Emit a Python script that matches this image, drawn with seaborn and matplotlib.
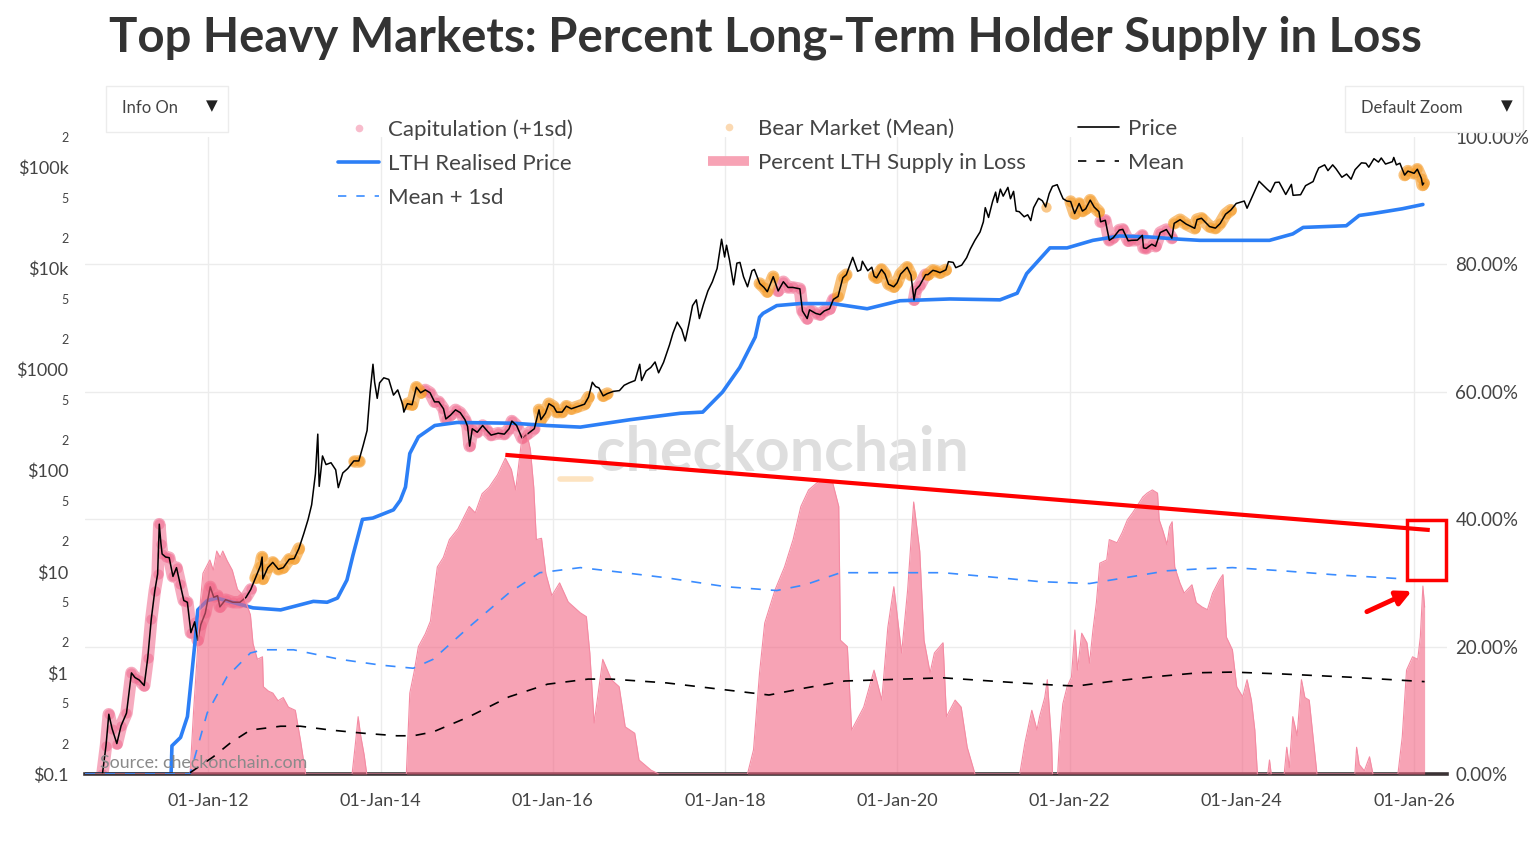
import numpy as np
import pandas as pd
import matplotlib
matplotlib.use("Agg")
import matplotlib.pyplot as plt
import matplotlib.dates as mdates
import matplotlib.patches as patches
from matplotlib.lines import Line2D
import seaborn as sns

# ---- data ----
price_dates = [
    "2010-07-18", "2010-08-15", "2010-09-15", "2010-10-10", "2010-10-25", "2010-11-06", "2010-11-20", "2010-12-10", "2010-12-28",
    "2011-01-20", "2011-02-10", "2011-02-25", "2011-03-15", "2011-04-05", "2011-04-20", "2011-05-05", "2011-05-20", "2011-06-01",
    "2011-06-08", "2011-06-15", "2011-06-20", "2011-07-05", "2011-07-20", "2011-08-05", "2011-08-20", "2011-09-05", "2011-09-20",
    "2011-10-05", "2011-10-20", "2011-11-05", "2011-11-18", "2011-12-01", "2011-12-20", "2012-01-10", "2012-01-25", "2012-02-10",
    "2012-02-20", "2012-03-15", "2012-04-15", "2012-05-15", "2012-06-10", "2012-06-30", "2012-07-20", "2012-08-10", "2012-08-17",
    "2012-08-20", "2012-09-10", "2012-10-01", "2012-10-25", "2012-11-15", "2012-12-10", "2012-12-31", "2013-01-20", "2013-02-10",
    "2013-02-28", "2013-03-15", "2013-03-31", "2013-04-10", "2013-04-16", "2013-04-30", "2013-05-15", "2013-06-05", "2013-06-25",
    "2013-07-06", "2013-07-25", "2013-08-15", "2013-09-10", "2013-10-01", "2013-10-20", "2013-11-05", "2013-11-18", "2013-11-30",
    "2013-12-07", "2013-12-18", "2013-12-28", "2014-01-15", "2014-02-05", "2014-02-25", "2014-03-15", "2014-04-05", "2014-04-10",
    "2014-04-25", "2014-05-15", "2014-06-02", "2014-06-20", "2014-07-10", "2014-07-30", "2014-08-18", "2014-09-05", "2014-09-25",
    "2014-10-05", "2014-10-25", "2014-11-15", "2014-12-05", "2014-12-25", "2015-01-05", "2015-01-14", "2015-01-25", "2015-02-15",
    "2015-03-10", "2015-03-31", "2015-04-15", "2015-05-15", "2015-06-10", "2015-06-30", "2015-07-12", "2015-08-01", "2015-08-24",
    "2015-09-15", "2015-10-15", "2015-11-04", "2015-11-12", "2015-12-01", "2015-12-16", "2016-01-05", "2016-01-18", "2016-02-10",
    "2016-02-28", "2016-03-20", "2016-04-15", "2016-05-15", "2016-06-01", "2016-06-17", "2016-07-01", "2016-07-15", "2016-08-02",
    "2016-08-20", "2016-09-15", "2016-10-10", "2016-10-30", "2016-11-20", "2016-12-15", "2017-01-04", "2017-01-12", "2017-01-31",
    "2017-02-20", "2017-03-10", "2017-03-25", "2017-04-15", "2017-05-10", "2017-05-25", "2017-06-12", "2017-07-01", "2017-07-16",
    "2017-08-01", "2017-08-16", "2017-09-01", "2017-09-14", "2017-10-01", "2017-10-20", "2017-11-08", "2017-11-28", "2017-12-17",
    "2017-12-30", "2018-01-07", "2018-01-20", "2018-02-06", "2018-02-20", "2018-03-05", "2018-03-20", "2018-04-06", "2018-04-25",
    "2018-05-05", "2018-05-28", "2018-06-15", "2018-06-29", "2018-07-24", "2018-08-14", "2018-09-05", "2018-09-25", "2018-10-15",
    "2018-11-14", "2018-11-25", "2018-12-15", "2018-12-25", "2019-01-20", "2019-02-08", "2019-02-25", "2019-03-20", "2019-04-05",
    "2019-04-25", "2019-05-15", "2019-05-30", "2019-06-26", "2019-07-17", "2019-07-30", "2019-08-06", "2019-08-29", "2019-09-15",
    "2019-09-25", "2019-10-05", "2019-10-26", "2019-11-10", "2019-11-25", "2019-12-17", "2019-12-31", "2020-01-15", "2020-02-12",
    "2020-02-28", "2020-03-12", "2020-03-20", "2020-04-05", "2020-04-30", "2020-05-10", "2020-05-31", "2020-06-15", "2020-06-30",
    "2020-07-25", "2020-08-05", "2020-08-25", "2020-09-05", "2020-09-30", "2020-10-21", "2020-11-05", "2020-11-25", "2020-12-17",
    "2020-12-31", "2021-01-08", "2021-01-22", "2021-02-08", "2021-02-21", "2021-02-28", "2021-03-13", "2021-03-25", "2021-04-14",
    "2021-04-25", "2021-05-08", "2021-05-19", "2021-06-01", "2021-06-22", "2021-07-07", "2021-07-20", "2021-08-01", "2021-08-22",
    "2021-09-07", "2021-09-21", "2021-10-06", "2021-10-20", "2021-11-09", "2021-11-26", "2021-12-04", "2021-12-20", "2022-01-05",
    "2022-01-22", "2022-02-10", "2022-02-24", "2022-03-10", "2022-03-29", "2022-04-15", "2022-05-05", "2022-05-12", "2022-06-01",
    "2022-06-18", "2022-07-05", "2022-07-30", "2022-08-14", "2022-09-06", "2022-09-20", "2022-10-15", "2022-11-05", "2022-11-10",
    "2022-11-21", "2022-12-15", "2022-12-31", "2023-01-20", "2023-02-15", "2023-03-10", "2023-03-20", "2023-04-14", "2023-05-10",
    "2023-06-15", "2023-06-25", "2023-07-14", "2023-08-17", "2023-09-11", "2023-10-01", "2023-10-24", "2023-11-15", "2023-12-08",
    "2024-01-11", "2024-01-23", "2024-02-15", "2024-03-14", "2024-04-17", "2024-05-01", "2024-05-21", "2024-06-07", "2024-07-05",
    "2024-07-29", "2024-08-05", "2024-09-06", "2024-09-27", "2024-10-29", "2024-11-12", "2024-11-22", "2024-12-17", "2024-12-31",
    "2025-01-20", "2025-02-03", "2025-02-28", "2025-03-20", "2025-04-08", "2025-04-25", "2025-05-22", "2025-06-10", "2025-06-22",
    "2025-07-14", "2025-08-02", "2025-08-14", "2025-09-01", "2025-09-30", "2025-10-06", "2025-10-17", "2025-11-01", "2025-11-21",
    "2025-12-05", "2025-12-31", "2026-01-14", "2026-01-31", "2026-02-05", "2026-02-10",
]
price_vals = [
    0.08, 0.07, 0.06, 0.10, 0.19, 0.39, 0.28, 0.20, 0.30,
    0.40, 1.00, 0.90, 0.85, 0.75, 1.40, 3.4, 6.5, 9.5,
    29.6, 19, 15, 14, 13.8, 9, 11, 7.5, 5.2,
    5.0, 2.5, 3.2, 2.1, 3.0, 3.9, 7.1, 5.6, 5.8,
    4.5, 5.3, 5.0, 5.0, 5.6, 6.7, 8.7, 11.5, 14.0,
    8.5, 11, 12.4, 10.6, 11.0, 13.3, 13.5, 17, 24,
    33, 46, 93, 230, 70, 140, 115, 120, 102,
    68, 95, 105, 125, 125, 180, 250, 600, 1130,
    750, 520, 740, 830, 800, 560, 630, 450, 380,
    460, 450, 670, 590, 630, 590, 480, 480, 410,
    325, 355, 400, 375, 320, 275, 175, 260, 240,
    280, 245, 225, 235, 230, 260, 310, 280, 210,
    230, 260, 400, 320, 370, 460, 430, 380, 380,
    435, 410, 430, 455, 535, 750, 680, 660, 550,
    580, 610, 620, 700, 740, 780, 1130, 780, 970,
    1050, 1190, 930, 1180, 1750, 2300, 2950, 2500, 1920,
    2850, 4300, 4900, 3200, 4400, 6000, 7400, 10000, 19500,
    13000, 17000, 12000, 6900, 11300, 11500, 8300, 6600, 9500,
    9800, 7100, 6500, 5900, 8300, 6000, 7400, 6500, 6500,
    6300, 3800, 3200, 3900, 3600, 3500, 3800, 4000, 4950,
    5300, 8100, 8700, 12900, 9400, 9700, 11800, 9500, 10300,
    8400, 8100, 9800, 8800, 7000, 6600, 7200, 8800, 10300,
    8600, 4900, 6200, 6800, 8700, 8700, 9600, 9400, 9100,
    9700, 11700, 11500, 10200, 10800, 12800, 15500, 19000, 23000,
    29000, 40000, 32000, 46000, 57000, 45000, 61000, 52000, 63500,
    49000, 58000, 37000, 36500, 32500, 34000, 29800, 40000, 49500,
    46800, 40700, 55000, 65000, 67500, 54000, 49000, 46500, 46000,
    35000, 44000, 37000, 39000, 47500, 40500, 36500, 29000, 30000,
    19000, 20200, 24000, 24400, 18800, 19000, 19100, 21300, 16000,
    15800, 17400, 16600, 22700, 24300, 20000, 28000, 30400, 27500,
    25000, 30500, 31400, 26000, 25100, 27900, 34500, 37800, 44000,
    46500, 39500, 52000, 73000, 61000, 57000, 71000, 71500, 54000,
    68000, 53000, 53700, 66000, 72500, 88000, 99000, 106000, 93000,
    106000, 97000, 80000, 86000, 76500, 95000, 111000, 110000, 100500,
    122000, 113000, 124000, 108000, 114000, 125500, 106000, 110000, 84000,
    92000, 87500, 96000, 78000, 67000, 70000,
]

# LTH realised price (decimal years)
lth_t = [2010.57, 2011.57, 2011.58, 2011.68, 2011.76, 2011.85, 2011.88, 2011.99, 2012.10, 2012.52, 2012.84, 2013.22,
         2013.38, 2013.50, 2013.61, 2013.68, 2013.79, 2013.91, 2014.15, 2014.23, 2014.29, 2014.34, 2014.44, 2014.63,
         2014.89, 2015.54, 2015.93, 2016.32, 2016.90, 2017.48, 2017.74, 2017.97, 2018.17, 2018.35, 2018.40, 2018.44,
         2018.60, 2018.87, 2019.25, 2019.65, 2020.03, 2020.61, 2021.19, 2021.39, 2021.50, 2021.77, 2021.97, 2022.27,
         2022.58, 2022.93, 2023.28, 2023.51, 2024.32, 2024.59, 2024.71, 2025.21, 2025.36, 2025.52, 2025.86, 2026.10]
lth_v = [0.1, 0.1, 0.19, 0.23, 0.37, 2.1, 4.2, 5.2, 5.5, 4.4, 4.2, 5.1,
         5.0, 5.5, 8.3, 14.6, 33, 34, 41, 51, 69, 148, 216, 280,
         300, 295, 280, 270, 320, 370, 380, 600, 1050, 2100, 3300, 3600,
         4300, 4500, 4500, 4000, 4800, 5000, 4900, 5700, 8900, 16000, 16000, 19000,
         21000, 20500, 19500, 19000, 19000, 22000, 25500, 26500, 33500, 35000, 39000, 43000]

# percent of LTH supply in loss (decimal years, %)
loss_t = [2010.57, 2011.79, 2011.83, 2011.87, 2011.91, 2011.94, 2012.02, 2012.06, 2012.10, 2012.14, 2012.17, 2012.22,
          2012.28, 2012.34, 2012.41, 2012.49, 2012.52, 2012.57, 2012.63, 2012.64, 2012.70, 2012.75, 2012.81, 2012.87,
          2012.93, 2013.01, 2013.07, 2013.13,
          2013.67, 2013.71, 2013.74, 2013.77, 2013.81, 2013.84,
          2014.30, 2014.34, 2014.39, 2014.44, 2014.52, 2014.58, 2014.66, 2014.73, 2014.80, 2014.90, 2015.03, 2015.10,
          2015.18, 2015.26, 2015.36, 2015.45, 2015.52, 2015.57, 2015.64, 2015.69, 2015.74, 2015.78, 2015.81, 2015.87,
          2015.92, 2015.99, 2016.08, 2016.18, 2016.32, 2016.39, 2016.43, 2016.48, 2016.52, 2016.58, 2016.68, 2016.77,
          2016.84, 2016.95, 2017.00, 2017.14, 2017.23,
          2018.26, 2018.33, 2018.40, 2018.46, 2018.58, 2018.69, 2018.79, 2018.88, 2018.97, 2019.11, 2019.25, 2019.32,
          2019.34, 2019.42, 2019.47, 2019.61, 2019.73, 2019.82, 2019.89, 2019.96, 2020.05, 2020.12, 2020.19, 2020.26,
          2020.31, 2020.38, 2020.43, 2020.53, 2020.57, 2020.67, 2020.74, 2020.81, 2020.90,
          2021.42, 2021.48, 2021.56, 2021.62, 2021.65, 2021.71, 2021.74, 2021.79, 2021.80, 2021.86, 2021.88, 2021.92,
          2021.97, 2022.02, 2022.06, 2022.09, 2022.14, 2022.20, 2022.23, 2022.27, 2022.31, 2022.35, 2022.43, 2022.46,
          2022.55, 2022.61, 2022.67, 2022.73, 2022.85, 2022.90, 2022.96, 2023.02, 2023.04, 2023.08, 2023.13, 2023.16,
          2023.19, 2023.22, 2023.28, 2023.33, 2023.42, 2023.47, 2023.54, 2023.60, 2023.66, 2023.74, 2023.78, 2023.82,
          2023.89, 2023.94, 2024.01, 2024.06, 2024.11, 2024.15, 2024.18,
          2024.30, 2024.32, 2024.34, 2024.49, 2024.52, 2024.55, 2024.59, 2024.64, 2024.69, 2024.73, 2024.78, 2024.82,
          2024.87, 2025.31, 2025.33, 2025.36, 2025.42, 2025.48, 2025.52,
          2025.81, 2025.86, 2025.91, 2025.98, 2026.04, 2026.07, 2026.10, 2026.12]
loss_v = [0, 0, 9.6, 18, 27, 31.5, 33.6, 32, 35, 34, 35, 33.5,
          32, 29, 28, 25, 20.5, 18, 18.4, 13.7, 13, 12.7, 11.5, 12,
          10.5, 10, 5.3, 0,
          0, 5, 9, 6, 3, 0,
          0, 12.7, 16, 20, 22, 24, 32.5, 34, 36.8, 38.5, 42, 41,
          44, 45, 47, 49.6, 47.8, 44.6, 52.5, 54, 51, 45, 36.8, 37,
          31.5, 28, 30, 27, 25.3, 24.7, 19, 8, 12, 18, 14.8, 13.7,
          7.4, 6.4, 2.2, 0.6, 0,
          0, 3.8, 15.9, 23.7, 28.9, 32.5, 36.8, 42, 44.6, 46.2, 45.7, 42,
          21, 20, 6.9, 10.5, 16.3, 11.6, 23, 29.4, 19, 28.9, 42.7, 35,
          21, 15.9, 19, 20.6, 9, 11.6, 10.5, 4.2, 0,
          0, 4.9, 10, 6.9, 9, 12, 14.8, 4.9, 0, 0, 4.9, 11,
          13.7, 15.2, 22.6, 16.3, 22.1, 20.6, 17.4, 22.6, 26.9, 33.1, 33.6, 36.8,
          36.3, 37.9, 39.9, 41, 43.5, 44.1, 44.6, 44.1, 39.9, 38.3, 36, 38.8,
          39.6, 32.5, 30, 28.4, 29.7, 26.9, 26.2, 25.8, 28.4, 30.5, 31.3, 21.5,
          19.5, 13.7, 12.1, 14.8, 11.6, 6.9, 0,
          0, 2.2, 0, 0, 4.2, 1, 9, 6, 14.8, 12, 11.6, 6.4,
          0, 0, 4.2, 1.5, 0.5, 2.7, 0,
          0, 5.8, 16.3, 18.4, 18, 21.5, 29.5, 26.2]

# mean and mean + 1sd of the loss metric
mean_t = [2011.79, 2012.06, 2012.26, 2012.49, 2012.84, 2013.07, 2013.42, 2013.80, 2014.19, 2014.38, 2014.61, 2015.03,
          2015.49, 2015.94, 2016.41, 2016.68, 2017.32, 2018.01, 2018.51, 2018.93, 2019.39, 2020.07, 2020.53, 2021.19,
          2021.77, 2022.08, 2022.46, 2022.93, 2023.51, 2023.89, 2024.47, 2025.25, 2026.12]
mean_v = [0.2, 2.7, 4.9, 6.9, 7.5, 7.5, 6.9, 6.4, 6.0, 6.0, 6.6, 9.0,
          12.1, 14.1, 14.9, 14.9, 14.3, 13.2, 12.4, 13.5, 14.6, 14.9, 15.1, 14.5,
          14.0, 13.8, 14.5, 15.2, 15.9, 16.0, 15.7, 15.2, 14.5]
sd_t = [2010.57, 2011.79, 2011.99, 2012.22, 2012.49, 2012.64, 2012.99, 2013.53, 2014.00, 2014.38, 2014.61, 2015.03,
        2015.49, 2015.85, 2016.32, 2016.77, 2017.32, 2018.01, 2018.60, 2018.93, 2019.34, 2020.07, 2020.53, 2021.19,
        2021.65, 2022.23, 2022.73, 2023.13, 2023.51, 2023.89, 2024.47, 2025.05, 2025.91]
sd_v = [0, 0, 9.6, 15.3, 19.0, 19.5, 19.5, 18.0, 17.1, 16.6, 18.0, 23.1,
        28.4, 31.6, 32.4, 31.7, 30.8, 29.4, 28.8, 29.7, 31.6, 31.6, 31.6, 30.8,
        30.2, 29.9, 31.0, 31.9, 32.2, 32.4, 31.9, 31.3, 30.6]

# highlighted regimes on the price line (decimal year ranges)
cap_periods = [(2010.55, 2012.52), (2014.49, 2015.82), (2018.60, 2019.30), (2020.16, 2020.34), (2022.35, 2023.20)]
bear_periods = [(2012.52, 2013.07), (2013.68, 2013.78), (2014.31, 2014.49), (2015.82, 2016.43), (2016.55, 2016.70),
                (2018.38, 2018.60), (2019.30, 2019.48), (2019.72, 2020.16), (2020.34, 2020.58), (2021.70, 2021.76),
                (2022.00, 2022.35), (2023.20, 2023.93), (2025.86, 2026.13)]

price_ticks = [0.1, 1, 10, 100, 1000, 1e4, 1e5]
price_labels = ["$0.1", "$1", "$10", "$100", "$1000", "$10k", "$100k"]
pct_ticks = [0, 20, 40, 60, 80, 100]


def yr2date(y):
    yr = int(np.floor(y))
    a = pd.Timestamp(yr, 1, 1)
    b = pd.Timestamp(yr + 1, 1, 1)
    return a + (b - a) * (y - yr)


def to_dates(ts):
    return pd.to_datetime([yr2date(t) for t in ts])


price_df = pd.DataFrame({"date": pd.to_datetime(price_dates), "price": price_vals})
price_df["t"] = price_df["date"].dt.year + (price_df["date"].dt.dayofyear - 1) / 365.25
lth_df = pd.DataFrame({"date": to_dates(lth_t), "v": lth_v})
loss_df = pd.DataFrame({"date": to_dates(loss_t), "v": loss_v})
mean_df = pd.DataFrame({"date": to_dates(mean_t), "v": mean_v})
sd_df = pd.DataFrame({"date": to_dates(sd_t), "v": sd_v})

sns.set_theme(style="white")
plt.rcParams["font.family"] = ["Lato", "DejaVu Sans"]
txt = "#444444"

W, H = 1537, 843
fig = plt.figure(figsize=(W / 100, H / 100), dpi=100)
fig.patch.set_facecolor("white")
L, R, T, B = 85, 1447, 137, 774
ax = fig.add_axes([L / W, 1 - B / H, (R - L) / W, (B - T) / H])
ax.patch.set_visible(False)
ax2 = ax.twinx()

# grid (percent levels + year ticks)
for p in pct_ticks[1:-1]:
    ax.plot([0, 1], [p / 100] * 2, transform=ax.transAxes, color="#ececec", lw=1, zorder=0)
ax.grid(axis="x", color="#ececec", lw=1)
ax.grid(axis="y", visible=False)

# watermark
ax.text(0.5117, 0.504, "checkonchain", transform=ax.transAxes, ha="center", va="center",
        fontsize=44, weight="bold", color="#dedede", zorder=0.5)
ax.plot([0.3488, 0.3715], [0.463, 0.463], transform=ax.transAxes, color="#fde3c0", lw=4, zorder=0.5)

# price halos
for a, b in cap_periods:
    seg = price_df[(price_df.t >= a) & (price_df.t <= b)]
    ax.plot(seg.date, seg.price, color="#f0668c", lw=9, alpha=0.55, solid_capstyle="round", zorder=2)
    ax.scatter(seg.date, seg.price, s=55, color="#f0668c", alpha=0.5, lw=0, zorder=2)
for a, b in bear_periods:
    seg = price_df[(price_df.t >= a) & (price_df.t <= b)]
    ax.plot(seg.date, seg.price, color="#f59a26", lw=9, alpha=0.6, solid_capstyle="round", zorder=2)
    ax.scatter(seg.date, seg.price, s=55, color="#f59a26", alpha=0.55, lw=0, zorder=2)

sns.lineplot(data=lth_df, x="date", y="v", ax=ax, color="#2c7ff6", lw=2.6, estimator=None, zorder=2.5)
sns.lineplot(data=price_df, x="date", y="price", ax=ax, color="black", lw=1.1, estimator=None, zorder=3)

ax.set_yscale("log")
ax.set_ylim(0.1, 2e5)
ax.set_yticks(price_ticks)
ax.set_yticklabels(price_labels)
minor = [m * 10.0 ** e for e in range(-1, 6) for m in (2, 5)]
minor = [m for m in minor if m <= 2e5]
ax.set_yticks(minor, minor=True)
ax.set_yticklabels(["2" if str(int(round(m / 10 ** np.floor(np.log10(m))))) == "2" else "5" for m in minor],
                   minor=True)
ax.tick_params(axis="y", which="major", labelsize=13, length=0, pad=12, colors=txt)
ax.tick_params(axis="y", which="minor", labelsize=9, length=0, pad=12, colors=txt)
ax.set_ylabel("")
ax.set_xlabel("")

# percent axis
ax2.fill_between(loss_df.date, 0, loss_df.v, color="#f26684", alpha=0.6, lw=0, zorder=1)
sns.lineplot(data=loss_df, x="date", y="v", ax=ax2, color="#f48ba3", lw=0.8, estimator=None, zorder=1.5)
sns.lineplot(data=sd_df, x="date", y="v", ax=ax2, color="#3a8cff", lw=1.2, estimator=None,
             linestyle=(0, (6, 6)), zorder=3)
sns.lineplot(data=mean_df, x="date", y="v", ax=ax2, color="black", lw=1.2, estimator=None,
             linestyle=(0, (6, 6)), zorder=3)
ax2.set_ylim(0, 100)
ax2.set_yticks(pct_ticks)
ax2.set_yticklabels([f"{p:.2f}%" for p in pct_ticks])
ax2.tick_params(axis="y", labelsize=13.5, length=0, pad=6, colors=txt)
ax2.set_ylabel("")
ax2.grid(False)

# red annotation
ax2.plot([yr2date(2015.45), yr2date(2026.18)], [50.1, 38.3], color="#ff0000", lw=3, zorder=5,
         solid_capstyle="butt")
x0 = mdates.date2num(yr2date(2025.92))
x1 = mdates.date2num(yr2date(2026.37))
ax2.add_patch(patches.Rectangle((x0, 30.5), x1 - x0, 9.4, fill=False, edgecolor="#ff0000", lw=2.5,
                                clip_on=False, zorder=5))
ax2.annotate("", xy=(yr2date(2026.0), 28.9), xytext=(yr2date(2025.42), 25.3),
             arrowprops=dict(arrowstyle="-|>", color="#ff0000", lw=3.5, mutation_scale=22), zorder=5)

# x axis
ax.xaxis.set_major_locator(mdates.YearLocator(2))
ax.xaxis.set_major_formatter(mdates.DateFormatter("%d-%b-%y"))
ax.tick_params(axis="x", labelsize=13, length=0, pad=14, colors=txt)
ax.set_xlim(yr2date(2010.57), yr2date(2026.38))

for s in ["top", "left", "right"]:
    ax.spines[s].set_visible(False)
    ax2.spines[s].set_visible(False)
ax2.spines["bottom"].set_visible(False)
ax.spines["bottom"].set_color("#3b3335")
ax.spines["bottom"].set_linewidth(2.6)

# legends (three columns)
leg_kw = dict(loc="upper left", frameon=False, fontsize=16, borderpad=0, borderaxespad=0,
              handlelength=1.85, handletextpad=0.42, labelspacing=0.64, labelcolor=txt)
h1 = [Line2D([], [], marker="o", ls="none", markersize=5.5, markerfacecolor="#f8bccc", markeredgewidth=0),
      Line2D([], [], color="#2c7ff6", lw=2.6),
      Line2D([], [], color="#3a8cff", lw=1.2, ls=(0, (5, 6)))]
h2 = [Line2D([], [], marker="o", ls="none", markersize=5.5, markerfacecolor="#fbd9b2", markeredgewidth=0),
      Line2D([], [], color="#f7a3b5", lw=7, solid_capstyle="butt")]
h3 = [Line2D([], [], color="black", lw=1.2),
      Line2D([], [], color="black", lw=1.2, ls=(0, (5, 6)))]
top = 1 - 119 / H
lg1 = fig.legend(h1, ["Capitulation (+1sd)", "LTH Realised Price", "Mean + 1sd"],
                 bbox_to_anchor=(338 / W, top), **leg_kw)
lg2 = fig.legend(h2, ["Bear Market (Mean)", "Percent LTH Supply in Loss"],
                 bbox_to_anchor=(708 / W, top), **leg_kw)
lg3 = fig.legend(h3, ["Price", "Mean"], bbox_to_anchor=(1078 / W, top), **leg_kw)

# title, source and ui buttons
fig.text(765 / W, 1 - 38 / H, "Top Heavy Markets: Percent Long-Term Holder Supply in Loss",
         ha="center", va="center", fontsize=34, weight="bold", color="#333333")
fig.text(100 / W, 1 - 763 / H, "Source: checkonchain.com", ha="left", va="center", fontsize=12.8,
         color="#8a8a8a")
for bx0, bx1, label in [(106, 228, "Info On"), (1345, 1523, "Default Zoom")]:
    fig.patches.append(patches.Rectangle((bx0 / W, 1 - 132 / H), (bx1 - bx0) / W, 46 / H,
                                         transform=fig.transFigure, facecolor="white",
                                         edgecolor="#ececec", lw=1, zorder=4))
    fig.text((bx0 + 16) / W, 1 - 108 / H, label, ha="left", va="center", fontsize=12, color=txt, zorder=5)
    fig.text((bx1 - 16) / W, 1 - 106 / H, "\u25bc", ha="center", va="center", fontsize=11, color="#222222",
             family=["DejaVu Sans"], zorder=5)

fig.savefig("out.png", dpi=100, facecolor="white")
